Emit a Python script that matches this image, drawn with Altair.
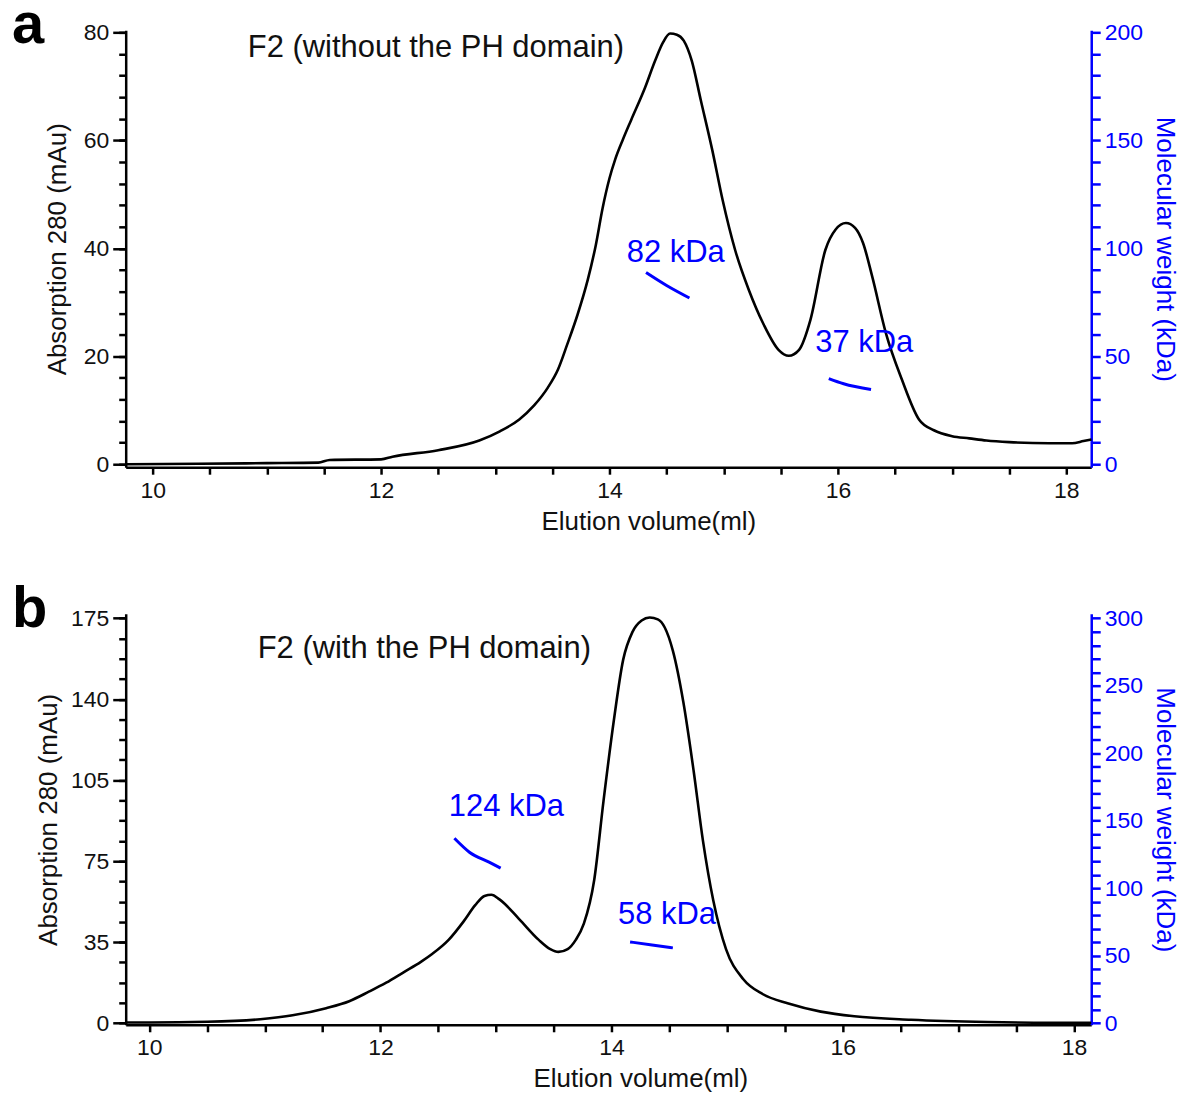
import altair as alt
import pandas as pd

FONT = "Liberation Sans"
BLUE = "#0000ff"

# ---------------- Panel a : F2 without the PH domain ----------------
a_vol = [9.77, 10.4, 11.0, 11.45, 11.55, 12.0, 12.1, 12.5, 12.86, 13.04, 13.21, 13.34,
         13.46, 13.55, 13.63, 13.72, 13.81, 13.88, 13.94, 14.00, 14.05, 14.12, 14.19, 14.31,
         14.40, 14.47, 14.53, 14.59, 14.65, 14.72, 14.80, 14.90, 14.99, 15.10, 15.22,
         15.35, 15.48, 15.57, 15.66, 15.76, 15.89, 15.98, 16.07, 16.15, 16.22, 16.30,
         16.42, 16.56, 16.71, 16.84, 17.00, 17.15, 17.30, 17.50, 17.85, 18.05, 18.15, 18.22]
a_abs = [0.0, 0.1, 0.2, 0.3, 0.8, 0.9, 1.4, 2.6, 4.4, 6.1, 8.3, 10.9,
         14.2, 17.6, 22.2, 27.7, 34.2, 40.6, 47.5, 53.0, 56.5, 60.3, 63.8, 69.7,
         74.8, 78.2, 79.8, 79.6, 78.5, 74.8, 67.4, 58.2, 49.0, 39.7, 32.3,
         25.9, 21.2, 20.1, 21.2, 26.8, 39.7, 43.5, 44.7, 43.8, 41.0, 34.8,
         24.3, 15.7, 8.3, 6.3, 5.2, 4.8, 4.4, 4.1, 3.9, 3.9, 4.3, 4.6]
a_mw1_vol = [14.32, 14.50, 14.70]
a_mw1_kda = [88.8, 82.8, 77.0]
a_mw2_vol = [15.92, 16.05, 16.29]
a_mw2_kda = [39.7, 37.3, 34.6]
a_title = "F2 (without the PH domain)"
a_title_pos = (12.48, 77.2)
a_labels = ["82 kDa", "37 kDa"]
a_label_vol = [14.58, 16.23]
a_label_abs = [39.2, 22.5]

# ---------------- Panel b : F2 with the PH domain ----------------
b_vol = [9.80, 10.0, 10.5, 10.96, 11.24, 11.53, 11.73, 11.90, 12.05, 12.20, 12.35, 12.45,
         12.59, 12.72, 12.82, 12.90, 12.96, 13.03, 13.20, 13.37, 13.47, 13.54, 13.62,
         13.69, 13.76, 13.85, 13.93, 14.02, 14.10, 14.18, 14.26, 14.33, 14.40, 14.46,
         14.53, 14.62, 14.71, 14.79, 14.88, 14.99, 15.14, 15.31, 15.53, 15.81, 16.10,
         16.59, 17.25, 17.80, 18.15]
b_abs = [0.3, 0.3, 0.6, 1.7, 3.4, 6.5, 9.5, 13.6, 17.5, 22.0, 26.5, 30.0,
         36.0, 44.0, 51.0, 55.0, 55.5, 53.5, 45.0, 36.0, 32.0, 30.8, 32.0,
         36.0, 43.0, 62.0, 96.0, 131.0, 157.0, 169.0, 174.0, 175.3, 174.5, 171.0,
         161.0, 139.0, 109.0, 79.0, 53.0, 32.0, 19.0, 12.5, 8.5, 5.0, 3.0,
         1.5, 0.5, 0.2, 0.2]
b_mw1_vol = [12.64, 12.77, 12.94, 13.04]
b_mw1_kda = [137.0, 126.7, 119.3, 114.9]
b_mw2_vol = [14.16, 14.35, 14.53]
b_mw2_kda = [60.2, 58.0, 55.8]
b_title = "F2 (with the PH domain)"
b_title_pos = (12.38, 161.9)
b_labels = ["124 kDa", "58 kDa"]
b_label_vol = [13.09, 14.48]
b_label_abs = [93.3, 46.8]

x_ticks = [10 + 0.5 * i for i in range(17)]
a_left_major = [0, 20, 40, 60, 80]
a_left_minor = [4 * i for i in range(21)]
b_left_major = [0, 35, 70, 105, 140, 175]
b_left_minor = [8.75 * i for i in range(21)]
a_right_ticks = [10 * i for i in range(21)]
b_right_ticks = [10 * i for i in range(31)]


def panel(letter, vol, absb, segs, title_text, title_pos, labels, label_vol, label_abs,
          xdom, ydom, rdom, left_major, left_minor, left_expr, right_ticks,
          height, xtitle_x, ytitle_pad):
    xscale = alt.Scale(domain=xdom, nice=False, zero=False)
    yscale = alt.Scale(domain=ydom, nice=False, zero=False)
    rscale = alt.Scale(domain=rdom, nice=False, zero=False)

    xaxis = alt.Axis(values=x_ticks,
                     labelExpr="datum.value % 2 === 0 ? '' + datum.value : ''",
                     title="Elution volume(ml)", tickSize=7, labelPadding=5,
                     titlePadding=6, titleX=xtitle_x,
                     labelOverlap=False, labelFlush=False)
    yaxis = alt.Axis(orient="left", values=left_major, labelExpr=left_expr,
                     title="Absorption 280 (mAu)", tickSize=13,
                     labelPadding=4, titlePadding=ytitle_pad, labelOverlap=False, labelFlush=False)
    yminor = alt.Axis(orient="left", values=left_minor, labels=False, domain=False,
                      title="", tickSize=7)
    raxis = alt.Axis(orient="right", values=right_ticks,
                     labelExpr="datum.value % 50 === 0 ? datum.label : ''",
                     title="Molecular weight (kDa)", tickSize=9, labelPadding=4, titlePadding=9,
                     domainColor=BLUE, tickColor=BLUE, labelColor=BLUE, titleColor=BLUE,
                     labelOverlap=False, labelFlush=False)

    df = pd.DataFrame({"V": vol, "A": absb})
    curve = alt.Chart(df).mark_line(color="black", strokeWidth=2.6, interpolate="monotone").encode(
        x=alt.X("V:Q", scale=xscale, axis=xaxis),
        y=alt.Y("A:Q", scale=yscale, axis=yaxis),
    )
    minor = alt.Chart(df).mark_line(opacity=0).encode(
        x=alt.X("V:Q", scale=xscale),
        y=alt.Y("A:Q", scale=yscale, axis=yminor),
    )

    tdf = pd.DataFrame({
        "V": [title_pos[0]] + label_vol,
        "A": [title_pos[1]] + label_abs,
        "T": [title_text] + labels,
        "C": ["#111111", BLUE, BLUE],
    })
    texts = alt.Chart(tdf).mark_text(fontSize=31, font=FONT, align="center", baseline="middle").encode(
        x=alt.X("V:Q", scale=xscale),
        y=alt.Y("A:Q", scale=yscale),
        text="T:N",
        color=alt.Color("C:N", scale=None),
    )

    letter_layer = alt.Chart(pd.DataFrame({"L": [letter]})).mark_text(
        fontSize=58, fontWeight="bold", font=FONT, align="left", baseline="alphabetic", color="black"
    ).encode(x=alt.value(-114), y=alt.value(13), text="L:N")

    rows = []
    for sid, (sv, sk) in enumerate(segs):
        for v, k in zip(sv, sk):
            rows.append({"V": v, "M": k, "S": sid})
    mdf = pd.DataFrame(rows)
    mw = alt.Chart(mdf).mark_line(color=BLUE, strokeWidth=3, interpolate="monotone").encode(
        x=alt.X("V:Q", scale=xscale),
        y=alt.Y("M:Q", scale=rscale, axis=raxis),
        detail="S:N",
    )

    core = alt.layer(curve, texts, letter_layer)
    left = alt.layer(minor, core).resolve_axis(y="independent")
    return alt.layer(left, mw).resolve_scale(y="independent").properties(width=968, height=height)


pa = panel("a", a_vol, a_abs, [(a_mw1_vol, a_mw1_kda), (a_mw2_vol, a_mw2_kda)],
           a_title, a_title_pos, a_labels, a_label_vol, a_label_abs,
           [9.764, 18.218], [-0.55, 80.4], [-1.375, 201.0],
           a_left_major, a_left_minor, "datum.label", a_right_ticks,
           438, 524, 13)

pb = panel("b", b_vol, b_abs, [(b_mw1_vol, b_mw1_kda), (b_mw2_vol, b_mw2_kda)],
           b_title, b_title_pos, b_labels, b_label_vol, b_label_abs,
           [9.796, 18.15], [-0.7, 176.9], [-1.2, 303.3],
           b_left_major, b_left_minor, "datum.value === 70 ? '75' : datum.label",
           b_right_ticks, 412, 516, 9)

chart = alt.vconcat(pa, pb, spacing=47).properties(
    padding={"left": 4, "top": -12, "right": 5, "bottom": 5}
).configure_view(stroke=None).configure_axis(
    labelFont=FONT, titleFont=FONT, labelFontSize=23, titleFontSize=26,
    titleFontWeight="normal", labelColor="#111111", titleColor="#111111",
    domainColor="black", tickColor="black", domainWidth=2.5, tickWidth=2.5, grid=False,
)

chart.save("out.html", embed_options={"renderer": "svg", "actions": False})
